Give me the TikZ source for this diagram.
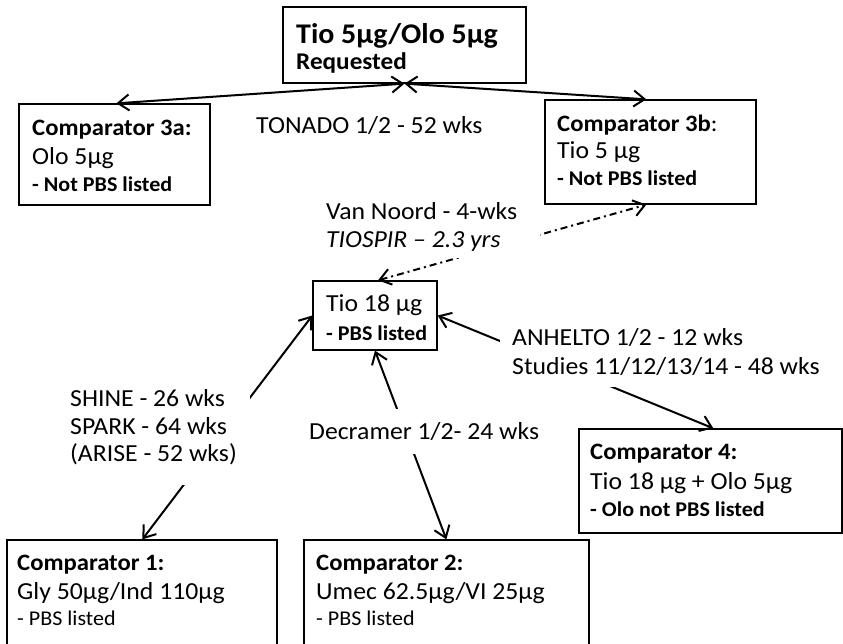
\documentclass[tikz,border=0pt]{standalone}
\usepackage{fontspec}
\setmainfont{Carlito}[FakeStretch=1.05]
\usetikzlibrary{arrows.meta}
\tikzset{
  boxst/.style={draw=black, line width=1.3pt, fill=white, inner sep=0pt},
  lab/.style={anchor=base west, inner sep=0pt, font=\fontsize{24.5}{29}\selectfont},
  hd/.style={anchor=base west, inner sep=0pt, font=\bfseries\fontsize{23.5}{28}\selectfont},
  sm/.style={anchor=base west, inner sep=0pt, font=\bfseries\fontsize{21}{25}\selectfont},
  smr/.style={anchor=base west, inner sep=0pt, font=\fontsize{21}{25}\selectfont},
  big/.style={anchor=base west, inner sep=0pt, font=\bfseries\fontsize{28.5}{33}\selectfont},
  conn/.style={{Straight Barb[length=11pt,width=16pt]}-{Straight Barb[length=11pt,width=16pt]}, line width=2pt},
  ddconn/.style={conn, dash pattern=on 7pt off 4pt on 2pt off 4pt},
  mask/.style={fill=white, draw=none, inner sep=0pt}
}
\begin{document}
\begin{tikzpicture}[x=1pt,y=-1pt]
\useasboundingbox (0,0) rectangle (843,644);
\clip (0,0) rectangle (843,644);
% boxes
\node[boxst, minimum width=243pt, minimum height=76pt] (top) at (404.5,45) {};
\node[boxst, minimum width=191pt, minimum height=101pt] (b3a) at (114.5,154.5) {};
\node[boxst, minimum width=211pt, minimum height=104pt] (b3b) at (650.5,152) {};
\node[boxst, minimum width=124pt, minimum height=69pt] (t18) at (375,315.5) {};
\node[boxst, minimum width=263pt, minimum height=104pt] (c4) at (710.5,481) {};
\node[boxst, minimum width=270pt, minimum height=114pt] (c1) at (142,597) {};
\node[boxst, minimum width=285pt, minimum height=114pt] (c2) at (446.5,597) {};
% connectors
\draw[conn] ([xshift=98pt]b3a.north west) -- (top.south);
\draw[conn] (top.south) -- ([xshift=102pt]b3b.north west);
\draw[ddconn] ([xshift=3pt]t18.north) -- ([xshift=102pt]b3b.south west);
\draw[conn] (t18.west) -- ([xshift=136pt]c1.north west);
\draw[conn] (t18.south) -- ([xshift=143pt]c2.north west);
\draw[conn] (t18.east) -- ([xshift=135pt]c4.north west);
% label masks
\node[mask, minimum width=220pt, minimum height=63pt] (m1) at (430,226.5) {};
\node[mask, minimum width=190pt, minimum height=105pt] (m2) at (155,432.5) {};
\node[mask, minimum width=245pt, minimum height=45pt] (m3) at (422.5,431.5) {};
\node[mask, minimum width=335pt, minimum height=69pt] (m4) at (667.5,352.5) {};
% top box text
\node[big] (tt1) at (296,44) {Tio 5µg/Olo 5µg};
\node[hd, font=\bfseries\fontsize{24}{28}\selectfont] (tt2) at (296,70) {Requested};
% 3a
\node[hd] (a1) at (32,136) {Comparator 3a:};
\node[lab] (a2) at (32,165) {Olo 5µg};
\node[sm] (a3) at (32,192) {- Not PBS listed};
% 3b
\node[hd] (b1) at (557,132) {Comparator 3b\mdseries:};
\node[lab] (b2) at (557,159) {Tio 5 µg};
\node[sm] (b3) at (557,186) {- Not PBS listed};
% labels
\node[lab] (ton) at (256,134) {TONADO 1/2 - 52 wks};
\node[lab] (vn) at (326,220) {Van Noord - 4-wks};
\node[lab, font=\itshape\fontsize{24.5}{29}\selectfont] (tio) at (326,248) {TIOSPIR -- 2.3 yrs};
% tio 18
\node[lab] (t1) at (326,312) {Tio 18 µg};
\node[sm] (t2) at (326,340) {- PBS listed};
% anhelto
\node[lab] (an1) at (512,345) {ANHELTO 1/2 - 12 wks};
\node[lab] (an2) at (512,374) {Studies 11/12/13/14 - 48 wks};
% shine
\node[lab] (sh1) at (70,406) {SHINE - 26 wks};
\node[lab] (sh2) at (70,434) {SPARK - 64 wks};
\node[lab] (sh3) at (70,461) {(ARISE - 52 wks)};
% decramer
\node[lab] (dec) at (309,439) {Decramer 1/2- 24 wks};
% comp 4
\node[hd] (d1) at (590,459) {Comparator 4:};
\node[lab] (d2) at (590,489) {Tio 18 µg + Olo 5µg};
\node[sm] (d3) at (590,516) {- Olo not PBS listed};
% comp 1
\node[hd] (e1) at (17,570) {Comparator 1:};
\node[lab] (e2) at (17,599) {Gly 50µg/Ind 110µg};
\node[smr] (e3) at (17,625) {- PBS listed};
% comp 2
\node[hd] (f1) at (316,570) {Comparator 2:};
\node[lab] (f2) at (316,599) {Umec 62.5µg/VI 25µg};
\node[smr] (f3) at (316,625) {- PBS listed};
\end{tikzpicture}
\end{document}
